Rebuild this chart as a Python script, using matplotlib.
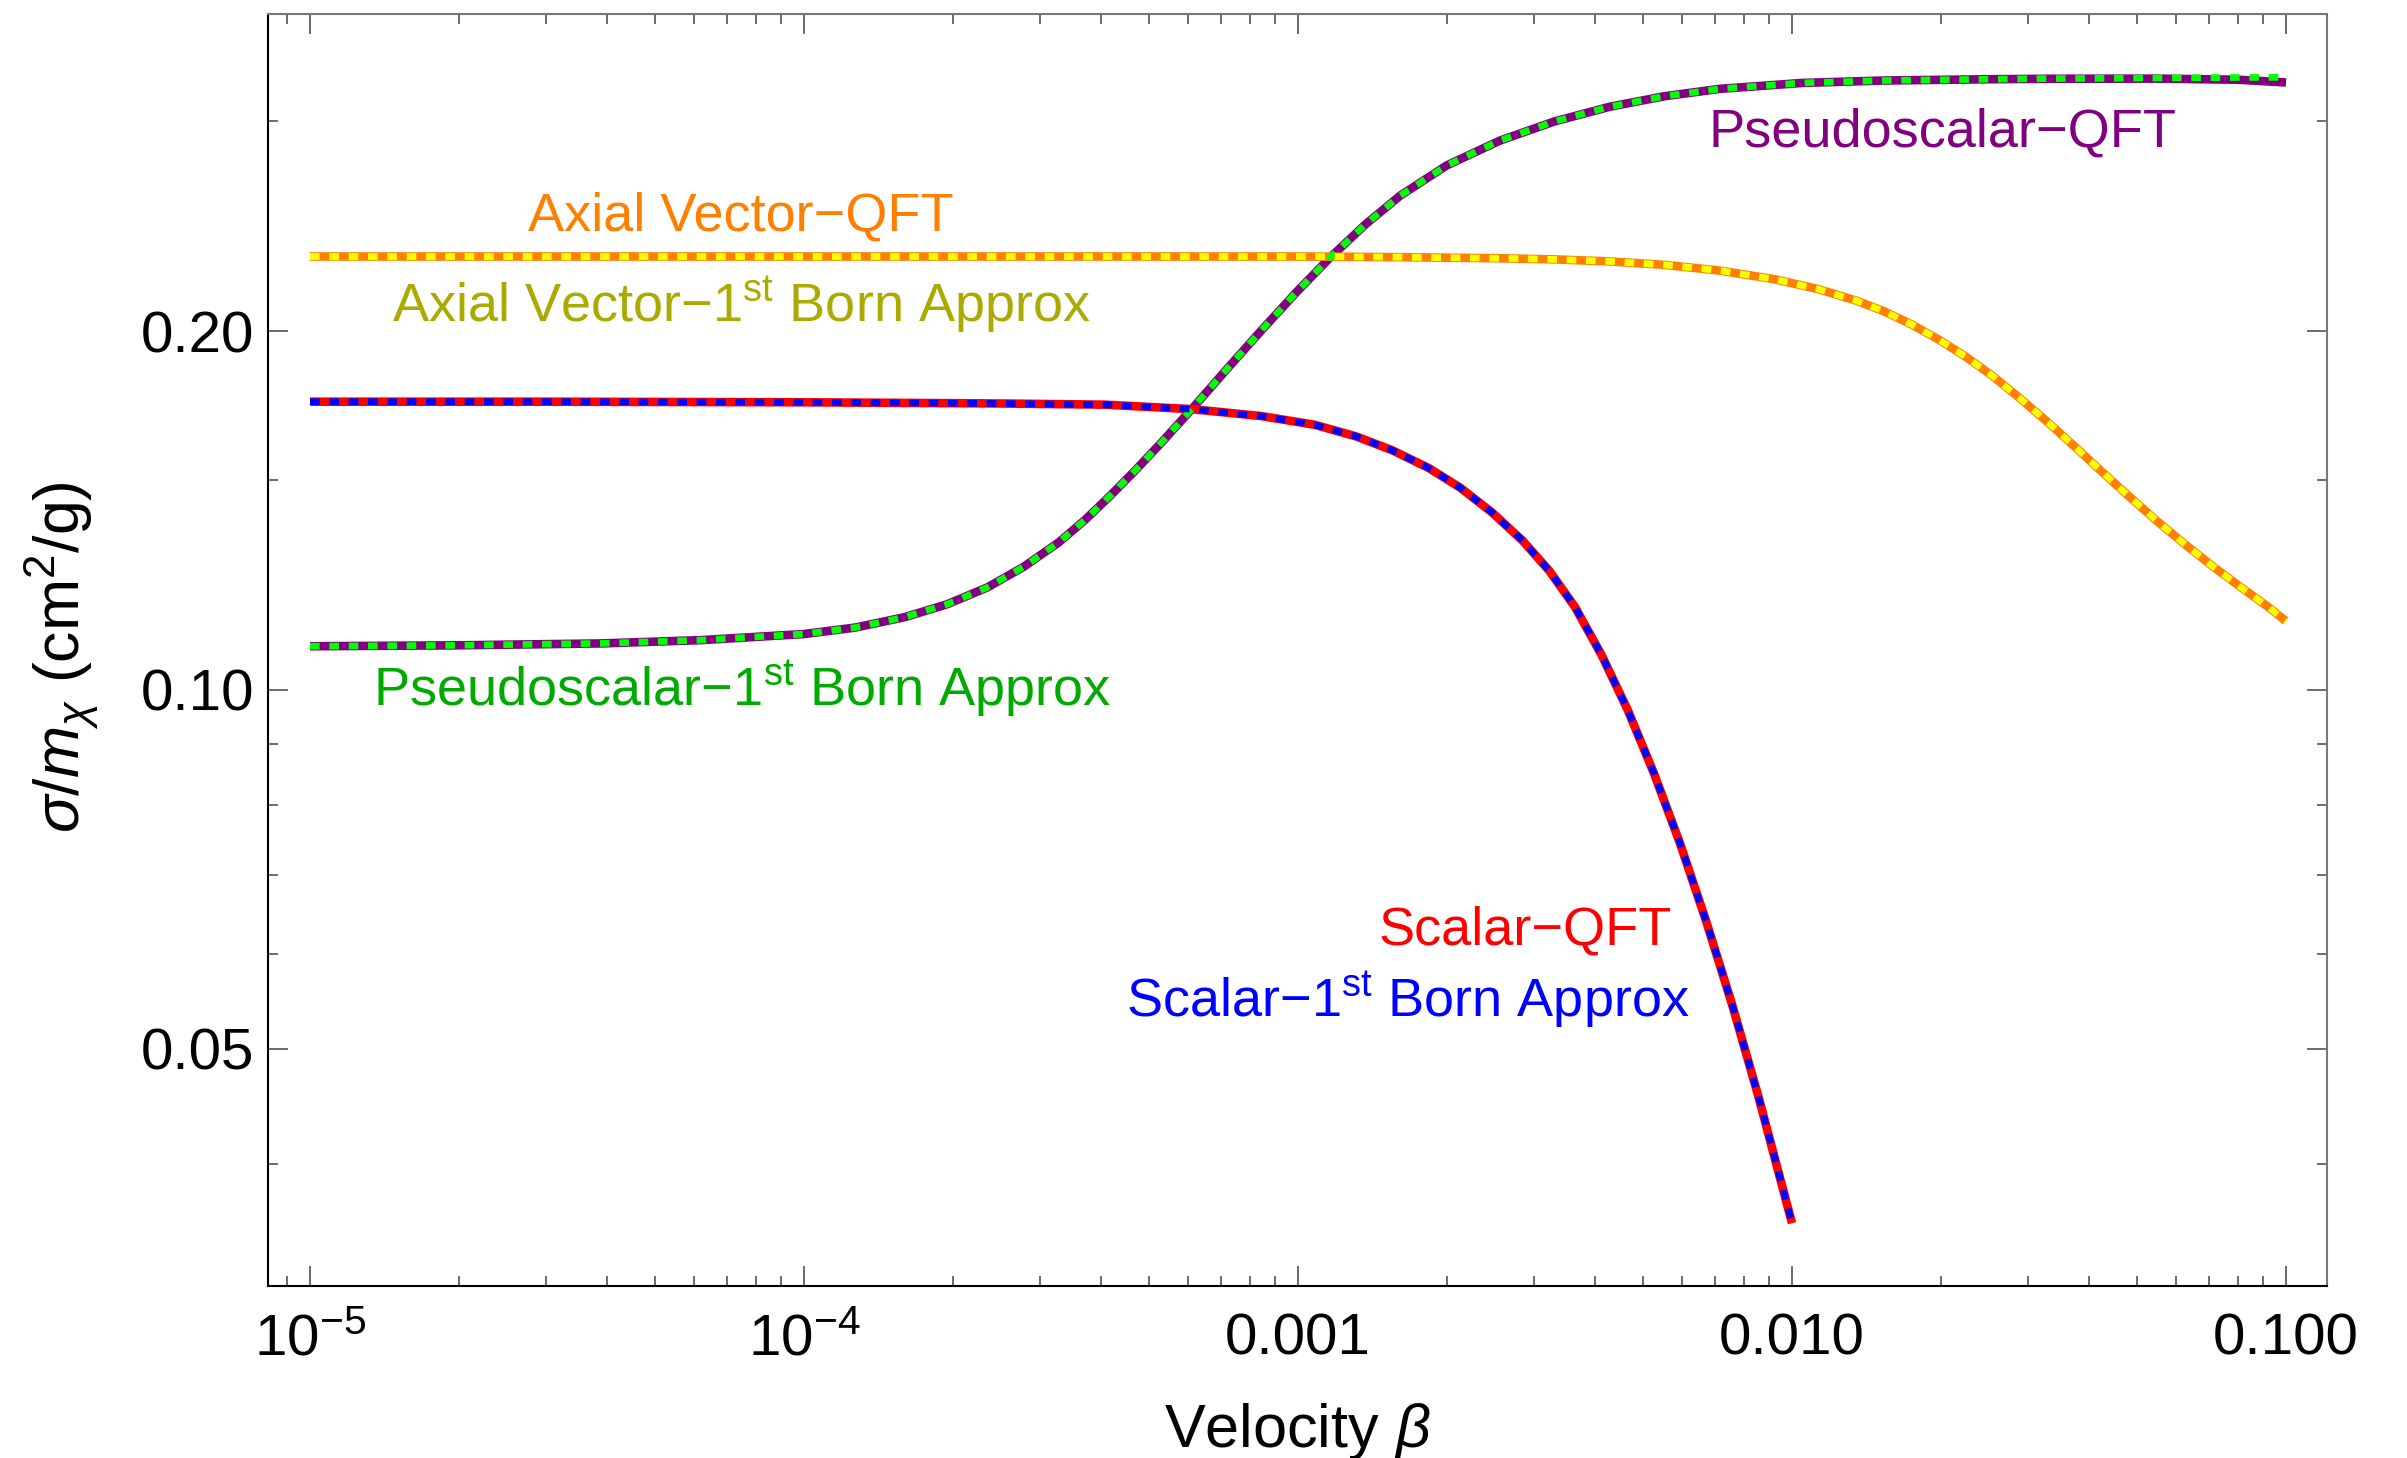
import matplotlib
matplotlib.use("Agg")
import matplotlib.pyplot as plt
from matplotlib.ticker import FixedLocator, FixedFormatter, NullFormatter

# ---- data (beta, sigma/m in cm^2/g) ----
beta_pseudo = [1.0e-5, 2.0e-5, 3.9e-5, 6.2e-5, 1.0e-4, 1.27e-4, 1.6e-4, 1.95e-4, 2.35e-4,
               2.78e-4, 3.28e-4, 3.7e-4, 4.16e-4, 4.69e-4, 5.28e-4, 6.14e-4, 7.2e-4,
               8.49e-4, 1.0e-3, 1.16e-3, 1.37e-3, 1.61e-3, 2.0e-3, 2.56e-3, 3.31e-3,
               4.28e-3, 5.52e-3, 7.13e-3, 1.05e-2, 1.53e-2, 2.5e-2, 3.3e-2, 5.5e-2,
               8.0e-2, 1.0e-1]
sigma_pseudo_qft = [0.1088, 0.1090, 0.1094, 0.1101, 0.1114, 0.1128, 0.1151, 0.1180, 0.1219,
                    0.1268, 0.1330, 0.1388, 0.1454, 0.1529, 0.1611, 0.1726, 0.1861,
                    0.2009, 0.2163, 0.2304, 0.2458, 0.2598, 0.2754, 0.2889, 0.2999,
                    0.3085, 0.3148, 0.3193, 0.3230, 0.3245, 0.3253, 0.3256, 0.3257,
                    0.3250, 0.3233]
sigma_pseudo_born = [0.1088, 0.1090, 0.1094, 0.1101, 0.1114, 0.1128, 0.1151, 0.1180, 0.1219,
                     0.1268, 0.1330, 0.1388, 0.1454, 0.1529, 0.1611, 0.1726, 0.1861,
                     0.2009, 0.2163, 0.2304, 0.2458, 0.2598, 0.2754, 0.2889, 0.2999,
                     0.3085, 0.3148, 0.3193, 0.3230, 0.3245, 0.3253, 0.3257, 0.3261,
                     0.3264, 0.3265]

beta_scalar = [1.0e-5, 3.0e-5, 1.0e-4, 2.5e-4, 4.06e-4, 6.1e-4, 8.44e-4, 1.08e-3, 1.31e-3,
               1.55e-3, 1.84e-3, 2.13e-3, 2.47e-3, 2.85e-3, 3.23e-3, 3.64e-3, 4.12e-3,
               4.65e-3, 5.25e-3, 5.93e-3, 6.70e-3, 7.57e-3, 8.55e-3, 1.0e-2]
sigma_scalar_qft = [0.1745, 0.1745, 0.1743, 0.1739, 0.1735, 0.1720, 0.1697, 0.1669, 0.1632,
                    0.1589, 0.1535, 0.1478, 0.1409, 0.1334, 0.1258, 0.1173, 0.1069,
                    0.0962, 0.0852, 0.0744, 0.0640, 0.0544, 0.0456, 0.0357]
sigma_scalar_born = [0.1745, 0.1745, 0.1743, 0.1739, 0.1735, 0.1720, 0.1697, 0.1669, 0.1632,
                     0.1589, 0.1535, 0.1478, 0.1409, 0.1334, 0.1258, 0.1173, 0.1069,
                     0.0962, 0.0852, 0.0744, 0.0640, 0.0544, 0.0456, 0.0357]

beta_axial = [1.0e-5, 1.0e-4, 1.0e-3, 1.6e-3, 2.56e-3, 3.31e-3, 4.28e-3, 5.52e-3, 7.13e-3,
              9.2e-3, 1.13e-2, 1.35e-2, 1.535e-2, 1.75e-2, 1.98e-2, 2.25e-2, 2.56e-2,
              2.91e-2, 3.3e-2, 3.76e-2, 4.27e-2, 4.85e-2, 5.51e-2, 6.27e-2, 7.12e-2,
              8.09e-2, 9.2e-2, 1.0e-1]
sigma_axial_qft = [0.2310, 0.2310, 0.2310, 0.2307, 0.2302, 0.2297, 0.2288, 0.2273, 0.2248,
                   0.2211, 0.2169, 0.2121, 0.2078, 0.2025, 0.1968, 0.1903, 0.1831,
                   0.1753, 0.1676, 0.1596, 0.1520, 0.1449, 0.1383, 0.1323, 0.1269,
                   0.1220, 0.1174, 0.1142]
sigma_axial_born = [0.2310, 0.2310, 0.2310, 0.2307, 0.2302, 0.2297, 0.2288, 0.2273, 0.2248,
                    0.2211, 0.2169, 0.2121, 0.2078, 0.2025, 0.1968, 0.1903, 0.1831,
                    0.1753, 0.1676, 0.1596, 0.1520, 0.1449, 0.1383, 0.1323, 0.1269,
                    0.1220, 0.1174, 0.1142]

x_ticks = [1e-5, 1e-4, 1e-3, 1e-2, 1e-1]
x_tick_labels = ["$10^{-5}$", "$10^{-4}$", "0.001", "0.010", "0.100"]
y_ticks = [0.05, 0.10, 0.20]
y_tick_labels = ["0.05", "0.10", "0.20"]
y_minor_ticks = [0.04, 0.06, 0.07, 0.08, 0.09, 0.15, 0.3]

FONT = "Liberation Sans"
plt.rcParams.update(
    {
        "font.family": FONT,
        "mathtext.fontset": "custom",
        "mathtext.rm": FONT,
        "mathtext.it": FONT + ":italic",
        "mathtext.bf": FONT + ":bold",
    }
)


def minor_x_ticks():
    ticks = []
    for dec in [1e-6, 1e-5, 1e-4, 1e-3, 1e-2, 1e-1]:
        for k in range(2, 10):
            ticks.append(k * dec)
    return ticks


fig = plt.figure(figsize=(24.07, 14.58), dpi=100)
ax = fig.add_axes([268 / 2407, 172 / 1458, (2327 - 268) / 2407, (1286 - 14) / 1458])
ax.set_xscale("log")
ax.set_yscale("log")

qft_lw = 6.2
born_lw = 4.8
born_dash = (1.45, 1.45)

pairs = [
    (beta_pseudo, sigma_pseudo_qft, sigma_pseudo_born, "#800080", "#00ff00"),
    (beta_scalar, sigma_scalar_qft, sigma_scalar_born, "#ff0000", "#0000ff"),
    (beta_axial, sigma_axial_qft, sigma_axial_born, "#ff8000", "#ffff00"),
]
for beta, qft, born, c_qft, c_born in pairs:
    ax.plot(beta, qft, color=c_qft, linewidth=qft_lw, solid_capstyle="butt",
            solid_joinstyle="round")
for beta, qft, born, c_qft, c_born in pairs:
    ax.plot(beta, born, color=c_born, linewidth=born_lw, dashes=born_dash,
            dash_capstyle="butt", dash_joinstyle="round")

# curve labels
label_size = 39
ax.text(7.46e-5, 0.2430, "Axial Vector\u2212QFT", color="#ff8000",
        fontsize=label_size, ha="center", va="baseline")
ax.text(7.46e-5, 0.2036, "Axial Vector\u22121$^{\\rm st}$ Born Approx", color="#aaaa00",
        fontsize=label_size, ha="center", va="baseline")
ax.text(7.5e-5, 0.0969, "Pseudoscalar\u22121$^{\\rm st}$ Born Approx", color="#00aa00",
        fontsize=label_size, ha="center", va="baseline")
ax.text(2.02e-2, 0.2855, "Pseudoscalar\u2212QFT", color="#800080",
        fontsize=label_size, ha="center", va="baseline")
ax.text(2.88e-3, 0.0612, "Scalar\u2212QFT", color="#ff0000",
        fontsize=label_size, ha="center", va="baseline")
ax.text(1.666e-3, 0.0532, "Scalar\u22121$^{\\rm st}$ Born Approx", color="#0000ff",
        fontsize=label_size, ha="center", va="baseline")

# axes limits and ticks
ax.set_xlim(10 ** -5.085, 10 ** -0.917)
ax.set_ylim(0.03162, 0.369)

ax.xaxis.set_major_locator(FixedLocator(x_ticks))
ax.xaxis.set_major_formatter(FixedFormatter(x_tick_labels))
ax.xaxis.set_minor_locator(FixedLocator(minor_x_ticks()))
ax.xaxis.set_minor_formatter(NullFormatter())
ax.yaxis.set_major_locator(FixedLocator(y_ticks))
ax.yaxis.set_major_formatter(FixedFormatter(y_tick_labels))
ax.yaxis.set_minor_locator(FixedLocator(y_minor_ticks))
ax.yaxis.set_minor_formatter(NullFormatter())

ax.tick_params(which="both", direction="in", top=True, right=True,
               color="#444444", width=1.1)
ax.tick_params(which="major", length=14.5, labelsize=42)
ax.tick_params(which="minor", length=7.2)
ax.tick_params(axis="x", which="major", pad=49)
ax.tick_params(axis="y", which="major", pad=10)
for lab in ax.get_xticklabels():
    lab.set_verticalalignment("baseline")

for side in ["left", "bottom"]:
    ax.spines[side].set_color("black")
    ax.spines[side].set_linewidth(1.5)
for side in ["top", "right"]:
    ax.spines[side].set_color("#777777")
    ax.spines[side].set_linewidth(1.5)

ax.set_xlabel("Velocity $\\beta$", fontsize=44)
ax.xaxis.label.set_verticalalignment("baseline")
ax.xaxis.set_label_coords(0.5, -0.1266)
ax.set_ylabel("$\\sigma/m_\\chi$ (cm$^2$/g)", fontsize=45)
ax.yaxis.set_label_coords(-0.081, 0.4945)

fig.savefig("out.png", dpi=100)
